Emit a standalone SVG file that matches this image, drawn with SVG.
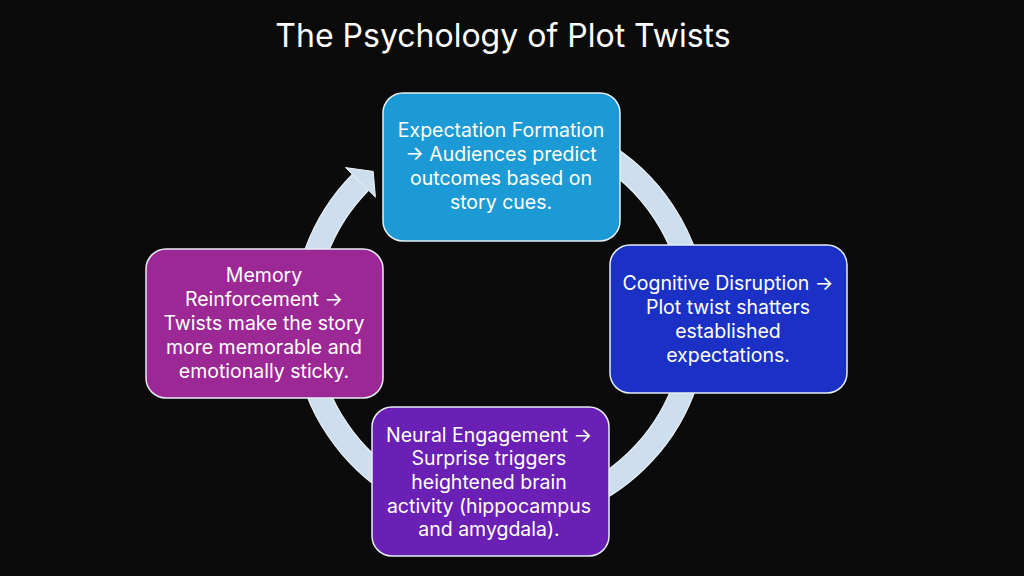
<svg xmlns="http://www.w3.org/2000/svg" width="1024" height="576" viewBox="0 0 1024 576">
<style>
.bg{fill:#0b0b0b}
.title{font-family:Inter,"Liberation Sans",sans-serif;font-size:32px;fill:#ffffff;text-anchor:middle}
.box{stroke:#e6eef5;stroke-width:1.5}
.t{font-family:Inter,"Liberation Sans",sans-serif;font-size:19.5px;fill:#ffffff;text-anchor:middle}
.ring{fill:none;stroke:#cddfee;stroke-width:22}
.ringedge{fill:none;stroke:#eef4fa;stroke-width:24}
</style>
<rect class="bg" x="0" y="0" width="1024" height="576"/>
<text class="title" x="503" y="47">The Psychology of Plot Twists</text>
<g id="connectors">
<path class="ringedge" d="M 517.1 124.7 A 196 196 0 1 1 360.4 182.4"/>
<path class="ring" d="M 517.1 124.7 A 196 196 0 1 1 360.4 182.4"/>
<polygon points="345.5,167.6 373.2,171.4 375.4,197.1" fill="#cddfee" stroke="#eef4fa" stroke-width="1"/>
</g>
<g id="node-expectation">
<rect class="box" x="383" y="93" width="237" height="148" rx="20" fill="#1c9ad6"/>
<text class="t" x="501" y="137">Expectation Formation</text>
<text class="t" x="501" y="161">→ Audiences predict</text>
<text class="t" x="501" y="185">outcomes based on</text>
<text class="t" x="501" y="209">story cues.</text>
</g>
<g id="node-cognitive">
<rect class="box" x="610" y="245" width="237" height="148" rx="20" fill="#1b31c6"/>
<text class="t" x="728" y="290">Cognitive Disruption →</text>
<text class="t" x="728" y="314">Plot twist shatters</text>
<text class="t" x="728" y="338">established</text>
<text class="t" x="728" y="362">expectations.</text>
</g>
<g id="node-neural">
<rect class="box" x="372" y="407" width="237" height="149" rx="20" fill="#6a20b4"/>
<text class="t" x="489" y="442">Neural Engagement →</text>
<text class="t" x="489" y="465">Surprise triggers</text>
<text class="t" x="489" y="489">heightened brain</text>
<text class="t" x="489" y="513">activity (hippocampus</text>
<text class="t" x="489" y="536">and amygdala).</text>
</g>
<g id="node-memory">
<rect class="box" x="146" y="249" width="237" height="149" rx="20" fill="#9c2896"/>
<text class="t" x="264" y="282">Memory</text>
<text class="t" x="264" y="306">Reinforcement →</text>
<text class="t" x="264" y="330">Twists make the story</text>
<text class="t" x="264" y="354">more memorable and</text>
<text class="t" x="264" y="378">emotionally sticky.</text>
</g>
</svg>
